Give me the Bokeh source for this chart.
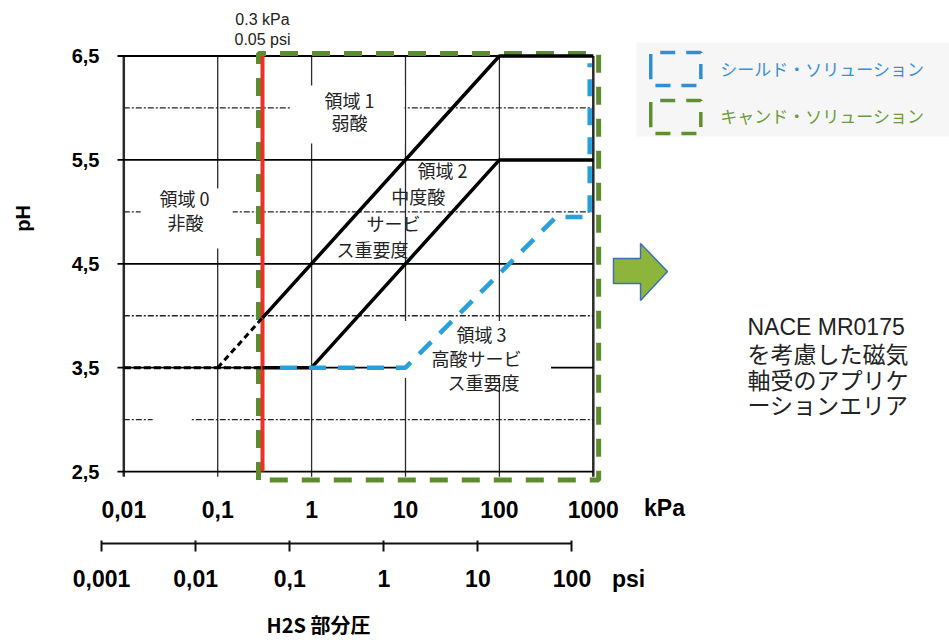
import math
from bokeh.plotting import figure
from bokeh.models import Range1d, LogAxis, FixedTicker, LogScale
from bokeh.core.properties import value
from bokeh.embed import file_html
from bokeh.resources import INLINE

# ---------------- data ----------------
kpa_ticks = [0.01, 0.1, 1, 10, 100, 1000]
kpa_labels = ["0,01", "0,1", "1", "10", "100", "1000"]
psi_ticks = [0.001, 0.01, 0.1, 1, 10, 100]
psi_labels = ["0,001", "0,01", "0,1", "1", "10", "100"]
ph_ticks = [2.5, 3.5, 4.5, 5.5, 6.5]
ph_labels = ["2,5", "3,5", "4,5", "5,5", "6,5"]
ph_half = [3.0, 4.0, 5.0, 6.0]

h2s_limit_kpa = 0.3
ph_min, ph_max = 2.5, 6.5
kpa_min, kpa_max = 0.01, 1000

# region boundaries (kPa, pH)
low_dash_x = [0.01, 0.3]
low_dash_y = [3.5, 3.5]
ext_dash_x = [0.1, 0.3]
ext_dash_y = [3.5, 3.98]
bound_12_x = [0.3, 100, 1000]
bound_12_y = [3.98, 6.5, 6.5]
bound_23_x = [0.3, 1, 100, 1000]
bound_23_y = [3.5, 3.5, 5.5, 5.5]

# application areas
shield_x = [0.46, 10, 400, 915, 915]
shield_y = [3.5, 3.5, 4.95, 4.95, 6.43]
canned_x = [0.272, 0.272, 1140, 1140, 0.272]
canned_y = [2.42, 6.525, 6.525, 2.42, 2.42]

legend_names = ["シールド・ソリューション", "キャンド・ソリューション"]
nace_title = "NACE MR0175"
nace_lines = ["を考慮した磁気", "軸受のアプリケ", "ーションエリア"]

# ---------------- figure (frame = whole canvas) ----------------
X_LO, X_HI = 10 ** -3.3131, 10 ** 6.7934
Y_LO, Y_HI = 0.8743, 7.0342
p = figure(width=949, height=640, x_axis_type="log",
           x_range=Range1d(X_LO, X_HI), y_range=Range1d(Y_LO, Y_HI),
           output_backend="svg", toolbar_location=None, min_border=0)
p.outline_line_color = None
p.xgrid.visible = False
p.ygrid.visible = False
p.background_fill_color = "white"
p.border_fill_color = "white"
p.extra_x_ranges = {"psi": Range1d(10 ** -4.0733, 10 ** 6.0117)}
p.extra_x_scales = {"psi": LogScale()}

TICK_FONT = "Liberation Sans"
CJK = "Noto Sans CJK JP"
AX_LEFT = 10 ** -2.0671   # left end of the horizontal grid lines
PSI_AXIS_Y = 1.811        # height of the psi scale line

# y axis
ya = p.yaxis[0]
ya.fixed_location = AX_LEFT
ya.ticker = FixedTicker(ticks=ph_ticks, minor_ticks=[])
ya.major_label_overrides = dict(zip(ph_ticks, ph_labels))
ya.axis_line_color = None
ya.major_tick_line_color = None
ya.minor_tick_line_color = None
ya.major_label_standoff = 12
ya.major_label_text_font = TICK_FONT
ya.major_label_text_font_style = "bold"
ya.major_label_text_font_size = "20px"
ya.major_label_text_color = "black"

# kPa axis
xa = p.xaxis[0]
xa.fixed_location = ph_min
xa.ticker = FixedTicker(ticks=kpa_ticks, minor_ticks=[])
xa.major_label_overrides = dict(zip(kpa_ticks, kpa_labels))
xa.axis_line_color = None
xa.major_tick_line_color = None
xa.minor_tick_line_color = None
xa.major_label_standoff = 23
xa.major_label_text_font = TICK_FONT
xa.major_label_text_font_style = "bold"
xa.major_label_text_font_size = "23px"
xa.major_label_text_color = "black"

# psi axis
pa = LogAxis(x_range_name="psi", fixed_location=PSI_AXIS_Y,
             ticker=FixedTicker(ticks=psi_ticks, minor_ticks=[]),
             bounds=(psi_ticks[0], psi_ticks[-1]),
             major_label_overrides=dict(zip(psi_ticks, psi_labels)),
             axis_line_width=2, axis_line_color="#111",
             major_tick_in=3, major_tick_out=8, major_tick_line_width=2,
             major_tick_line_color="#111", minor_tick_line_color=None,
             major_label_standoff=19, major_label_text_font=TICK_FONT,
             major_label_text_font_style="bold", major_label_text_font_size="23px",
             major_label_text_color="black")
p.add_layout(pa, "below")

# ---------------- grid ----------------
vw = [2.5 if t in (kpa_min, kpa_max) else 1.3 for t in kpa_ticks]
p.segment(x0=kpa_ticks, y0=[ph_min - 0.05] * len(kpa_ticks), x1=kpa_ticks,
          y1=[ph_max] * len(kpa_ticks), line_color="#2a2a2a", line_width=vw)
p.segment(x0=[AX_LEFT] * len(ph_ticks), y0=ph_ticks, x1=[kpa_max] * len(ph_ticks),
          y1=ph_ticks, line_color="black", line_width=1.8)
p.segment(x0=[kpa_min] * len(ph_half), y0=ph_half, x1=[kpa_max] * len(ph_half),
          y1=ph_half, line_color="#222", line_width=1.3, line_dash="6 2 2 2")

# masks of hidden texts
p.quad(left=[10 ** -0.224, 10 ** -1.821, 10 ** 0.97, 10 ** -1.693],
       right=[10 ** 0.99, 10 ** -0.840, 10 ** 2.55, 10 ** -1.288],
       top=[6.216, 5.225, 3.95, 3.08], bottom=[5.658, 4.647, 3.40, 2.92],
       fill_color="white", line_color=None)

# ---------------- boundaries ----------------
p.line(canned_x, canned_y, line_color="#5d8c2e", line_width=5, line_dash="18 14")
p.segment(x0=[h2s_limit_kpa], y0=[ph_min], x1=[h2s_limit_kpa], y1=[ph_max],
          line_color="#ea3323", line_width=4)
p.line(low_dash_x, low_dash_y, line_color="black", line_width=3, line_dash="7 3")
p.line(ext_dash_x, ext_dash_y, line_color="black", line_width=3, line_dash="6 4")
p.line(bound_12_x, bound_12_y, line_color="black", line_width=3.5)
p.line(bound_23_x, bound_23_y, line_color="black", line_width=3.5)
p.line(shield_x, shield_y, line_color="#27a0dc", line_width=4.5, line_dash="17 12")

# ---------------- texts ----------------
def texts(xs, ys, t, size, color="#222", font=CJK, align="center", style="normal", angle=0.0):
    p.text(x=xs, y=ys, text=t, text_font=value(font), text_font_size=size,
           text_color=color, text_align=align, text_baseline="middle",
           text_font_style=style, angle=angle)

texts([0.3, 0.3], [6.851, 6.659], ["0.3 kPa", "0.05 psi"], "16px", font=TICK_FONT)
texts([2.53, 2.53], [6.072, 5.860], ["領域 1", "弱酸"], "18px")
texts([24.8, 13.7, 7.45, 4.46], [5.398, 5.157, 4.897, 4.647],
      ["領域 2", "中度酸", "サービ", "ス重要度"], "18px")
texts([0.0443, 0.0454], [5.138, 4.907], ["領域 0", "非酸"], "18px")
texts([64.4, 57.0, 67.8], [3.829, 3.598, 3.367], ["領域 3", "高酸サービ", "ス重要度"], "18px")

# legend panel
p.quad(left=[10 ** 3.46], right=[X_HI], top=[6.63], bottom=[5.725],
       fill_color="#f6f6f6", line_color=None)
ix0, ix1 = 10 ** 3.612, 10 ** 4.145
p.line([ix0, ix0, ix1, ix1, ix0, ix0], [6.375, 6.534, 6.534, 6.216, 6.216, 6.375],
       line_color="#2f8fd6", line_width=3.5, line_dash="15 11")
p.line([ix0, ix0, ix1, ix1, ix0, ix0], [5.913, 6.072, 6.072, 5.754, 5.754, 5.913],
       line_color="#5f8f2f", line_width=3.5, line_dash="15 11")
texts([10 ** 4.353], [6.380], [legend_names[0]], "17px", color="#3b8fd2", align="left")
texts([10 ** 4.353], [5.927], [legend_names[1]], "17px", color="#6a9c3a", align="left")

# arrow
ax0, ax1, ax2 = 10 ** 3.215, 10 ** 3.503, 10 ** 3.790
p.patch([ax0, ax1, ax1, ax2, ax1, ax1, ax0], [4.551, 4.551, 4.695, 4.426, 4.147, 4.310, 4.310],
        fill_color="#8db53c", line_color="#3c6fb8", line_width=1.5)

texts([10 ** 4.642], [3.887], [nace_title], "23px", font=TICK_FONT, align="left")
texts([10 ** 4.642] * 3, [3.637, 3.396, 3.155], nace_lines, "23px", align="left")

# axis titles and units
texts([10 ** -3.0788], [4.936], ["pH"], "20px", color="black", font=TICK_FONT,
      style="bold", angle=math.pi / 2)
texts([10 ** 3.758], [2.145], ["kPa"], "23px", color="black", font=TICK_FONT, style="bold")
texts([10 ** 3.375], [1.471], ["psi"], "23px", color="black", font=TICK_FONT, style="bold")
texts([10 ** 0.0735], [1.028], ["H2S 部分圧"], "20px", color="black", style="bold")

open("out.html", "w").write(file_html(p, INLINE))
